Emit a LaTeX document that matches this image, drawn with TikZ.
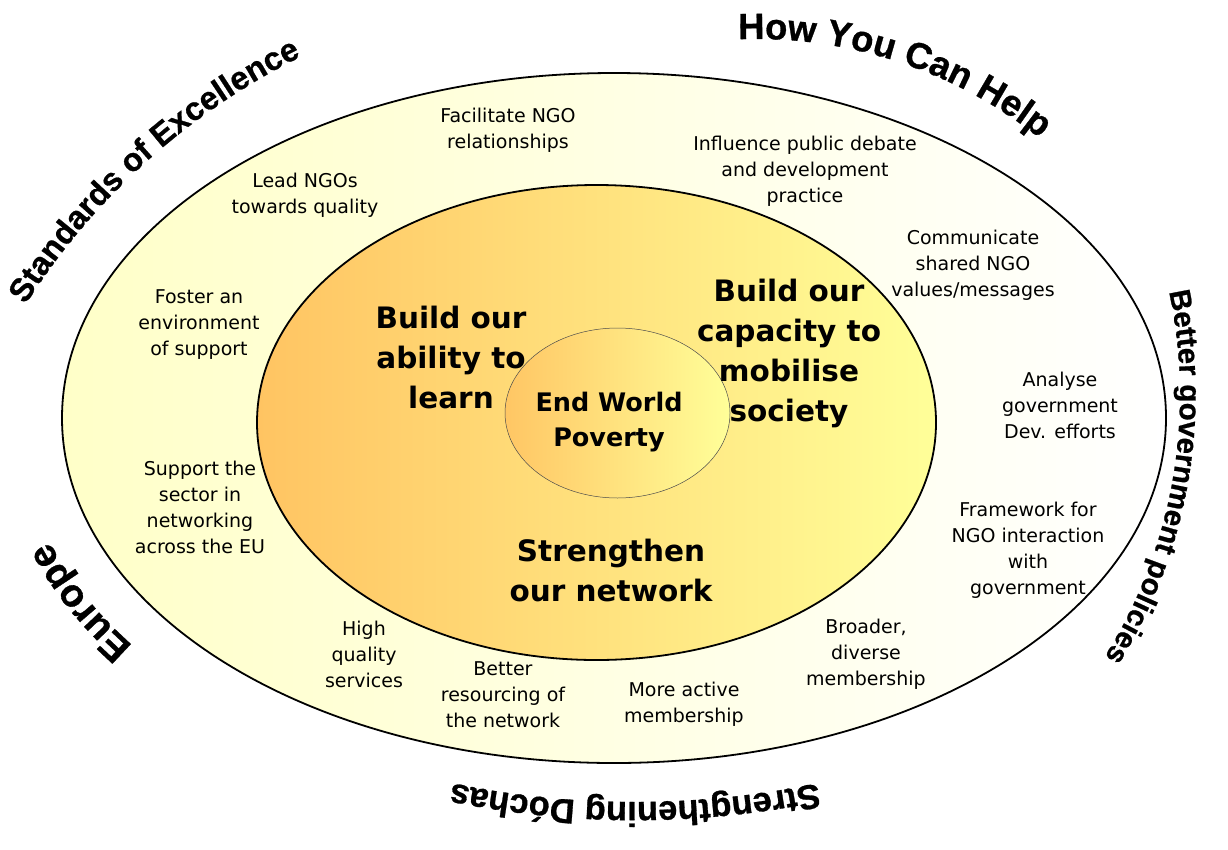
\documentclass[tikz,border=0pt]{standalone}
\usepackage{fontspec}
\setmainfont{DejaVu Sans}
\newfontfamily\arialfont{Liberation Sans}[BoldFeatures={FakeBold=0.8}]
\usetikzlibrary{decorations.text}
\definecolor{outerL}{HTML}{FFFFC8}
\definecolor{midL}{HTML}{FFC462}
\definecolor{midR}{HTML}{FFFF99}
\definecolor{innL}{HTML}{FFC664}
\definecolor{innR}{HTML}{FFFF99}
\begin{document}
\begin{tikzpicture}[x=1pt,y=1pt]
\tikzset{
  smalltxt/.style={align=center, inner sep=0pt, font=\fontsize{19}{26}\selectfont},
  bigtxt/.style={align=center, inner sep=0pt, font=\fontsize{29.5}{40}\selectfont\bfseries},
  endtxt/.style={align=center, inner sep=0pt, font=\fontsize{25.5}{35}\selectfont\bfseries},
  ring/.style={draw=black, line width=1.8pt}
}
\useasboundingbox (0,0) rectangle (1228,-849);
% ellipses
\draw[ring, left color=outerL, right color=white] (614,-418) ellipse [x radius=552, y radius=345];
\draw[ring, left color=midL, right color=midR] (596.5,-422.5) ellipse [x radius=339.5, y radius=237.5];
\draw[draw=black!70, line width=0.5pt, left color=innL, right color=innR] (617.5,-413) ellipse [x radius=112.5, y radius=85];
% curved outer titles
\path[decorate, decoration={text along path, text align=center,
  text={|\arialfont\bfseries\fontsize{32.5}{32.5}\selectfont|Standards of Excellence}}]
  ([shift={(160:690)}]608,-674.5) arc[start angle=160, end angle=104, radius=690];
\path[decorate, decoration={text along path, text align=center,
  text={|\arialfont\bfseries\fontsize{36.5}{36.5}\selectfont|How You Can Help}}]
  ([shift={(100:455)}]756,-494) arc[start angle=100, end angle=43.6, radius=455];
\path[decorate, decoration={text along path, text align=center,
  text={|\arialfont\bfseries\fontsize{29.5}{29.5}\selectfont|Better government policies}}]
  ([shift={(20:493)}]687,-395) arc[start angle=20, end angle=-40, radius=493];
\path[decorate, decoration={text along path, text align=center,
  text={|\arialfont\bfseries\fontsize{34.5}{34.5}\selectfont|Strengthening Dóchas}}]
  ([shift={(285:900)}]635,98) arc[start angle=285, end angle=255, radius=900];
\path[decorate, decoration={text along path, text align=center,
  text={|\arialfont\bfseries\fontsize{39}{39}\selectfont|Europe}}]
  ([shift={(228:596 and 386)}]614,-418) arc[start angle=228, end angle=184, x radius=596, y radius=386];
% outer ring texts
\node[smalltxt] (fac) at (508,-130) {Facilitate NGO\\relationships};
\node[smalltxt] (lead) at (305,-195) {Lead NGOs\\towards quality};
\node[smalltxt] (infl) at (805,-171) {Influence public debate\\and development\\practice};
\node[smalltxt] (comm) at (973,-265) {Communicate\\shared NGO\\values/messages};
\node[smalltxt] (fost) at (199,-325) {Foster an\\environment\\of support};
\node[smalltxt] (anal) at (1060,-405) {Analyse\\government\\Dev. efforts};
\node[smalltxt] (supp) at (200,-507) {Support the\\sector in\\networking\\across the EU};
\node[smalltxt] (fram) at (1028,-550) {Framework for\\NGO interaction\\with\\government};
\node[smalltxt] (high) at (364,-654) {High\\quality\\services};
\node[smalltxt] (bett) at (503,-695) {Better\\resourcing of\\the network};
\node[smalltxt] (more) at (684,-704) {More active\\membership};
\node[smalltxt] (broa) at (866,-654) {Broader,\\diverse\\membership};
% middle ring texts
\node[bigtxt] (learn) at (451,-357) {Build our\\ability to\\learn};
\node[bigtxt] (mob) at (789,-353) {Build our\\capacity to\\mobilise\\society};
\node[bigtxt] (net) at (611,-570) {Strengthen\\our network};
% centre
\node[endtxt] (end) at (609,-422) {End World\\Poverty};
\end{tikzpicture}
\end{document}
